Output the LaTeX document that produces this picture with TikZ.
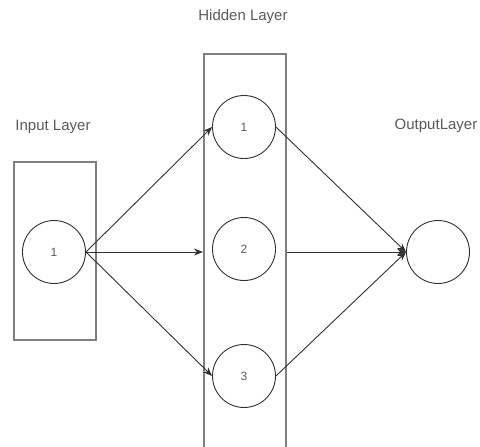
\documentclass[tikz,border=0pt]{standalone}
\usepackage{fontspec}
\setmainfont{Liberation Sans}
\usetikzlibrary{arrows.meta}
\definecolor{boxgray}{HTML}{7F7F7F}
\definecolor{inkdark}{HTML}{303030}
\definecolor{labelgray}{HTML}{5A5A5A}
\begin{document}
\begin{tikzpicture}[x=1pt,y=-1pt,
  layerbox/.style={draw=boxgray, line width=2pt, rectangle, inner sep=0pt},
  neuron/.style={draw=inkdark, line width=0.9pt, circle, minimum size=63pt, inner sep=0pt,
    font=\fontsize{12}{14}\selectfont, text=labelgray},
  caption/.style={font=\fontsize{15}{18}\selectfont, text=labelgray, inner sep=0pt},
  link/.style={draw=inkdark, line width=0.9pt, -{Stealth[length=9pt,width=7pt]}}]
\useasboundingbox (0,0) rectangle (480,447);
\clip (0,0) rectangle (480,447);

% layer frames
\node[layerbox, minimum width=82pt, minimum height=178pt] (inbox) at (55,251) {};
\node[layerbox, minimum width=82pt, minimum height=410pt] (hidbox) at (245,259) {};

% captions
\node[caption] (incap) at (53,127) {Input Layer};
\node[caption] (hidcap) at (243,17) {Hidden Layer};
\node[caption] (outcap) at (436,126) {OutputLayer};

% neurons
\node[neuron] (in1) at (54,252) {1};
\node[neuron] (h1) at (244,127) {1};
\node[neuron] (h2) at (244,249) {2};
\node[neuron] (h3) at (244,376) {3};
\node[neuron] (out) at (438,252) {};

% input -> hidden
\draw[link] (in1.east) -- (h1.west);
\draw[link] (in1.east) -- (in1.east -| hidbox.west);
\draw[link] (in1.east) -- (h3.west);

% hidden -> output
\draw[link] (h1.east) -- (out.west);
\draw[link] (out.west -| hidbox.east) -- (out.west);
\draw[link] (h3.east) -- (out.west);
\end{tikzpicture}
\end{document}
